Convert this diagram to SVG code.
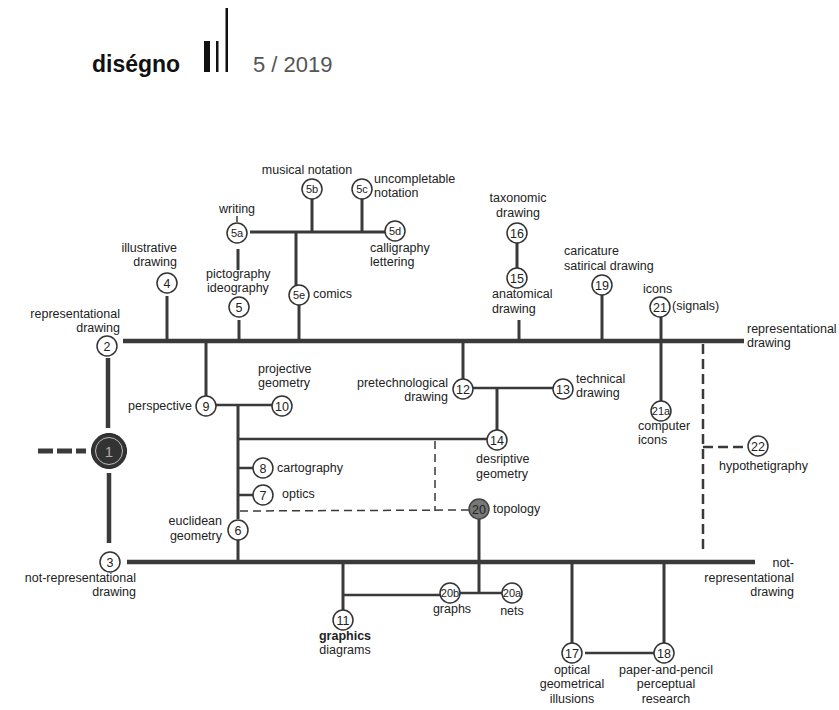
<svg xmlns="http://www.w3.org/2000/svg" width="839" height="710" viewBox="0 0 839 710">
<style>
.t{font-family:"Liberation Sans",Arial,sans-serif;font-size:12.5px;fill:#222}
.e{text-anchor:end}
.m{text-anchor:middle}
.n{font-family:"Liberation Sans",Arial,sans-serif;font-size:12.5px;fill:#222;text-anchor:middle}
.s{font-size:11px}
.c{fill:#fff;stroke:#333;stroke-width:1.5}
.main{stroke:#3a3a3a;stroke-width:4.5;fill:none}
.br{stroke:#3a3a3a;stroke-width:3;fill:none}
.th{stroke:#3a3a3a;stroke-width:2.5;fill:none}
.dsh{stroke:#3a3a3a;stroke-width:1.5;fill:none;stroke-dasharray:8,5}
.dsh2{stroke:#3a3a3a;stroke-width:2.5;fill:none;stroke-dasharray:10,5}
</style>
<rect width="839" height="710" fill="#fff"/>
<g id="header">
<text x="92" y="72" style="font-family:'Liberation Sans',Arial,sans-serif;font-size:23px;font-weight:bold;fill:#111">diségno</text>
<rect x="204" y="41" width="6" height="31" fill="#111"/>
<rect x="216" y="41" width="2.5" height="31" fill="#111"/>
<rect x="225.5" y="8" width="2.5" height="64" fill="#111"/>
<text x="253" y="72" style="font-family:'Liberation Sans',Arial,sans-serif;font-size:22px;fill:#555">5 / 2019</text>
</g>
<g id="connectors">
<line class="main" x1="123" y1="341" x2="744" y2="341"/>
<line class="main" x1="127" y1="562" x2="755" y2="562"/>
<line class="main" x1="108" y1="358" x2="108" y2="428"/>
<line class="main" x1="109" y1="473" x2="109" y2="543"/>
<line stroke="#3a3a3a" stroke-width="5" stroke-dasharray="15,4" x1="38" y1="451" x2="86" y2="451"/>
<line class="br" x1="167" y1="296" x2="167" y2="341"/>
<line class="br" x1="239" y1="320" x2="239" y2="341"/>
<line class="br" x1="238" y1="249" x2="238" y2="270"/>
<line stroke="#3a3a3a" stroke-width="1.5" x1="237" y1="216" x2="237" y2="222"/>
<line class="br" x1="250" y1="232" x2="385" y2="232"/>
<line class="br" x1="312" y1="199" x2="312" y2="232"/>
<line class="br" x1="362" y1="199" x2="362" y2="232"/>
<line class="br" x1="296" y1="232" x2="296" y2="285"/>
<line class="br" x1="299" y1="305" x2="299" y2="341"/>
<line class="br" x1="517" y1="243" x2="517" y2="268"/>
<line class="br" x1="519" y1="320" x2="519" y2="341"/>
<line class="br" x1="602" y1="295" x2="602" y2="341"/>
<line class="br" x1="661" y1="317" x2="661" y2="401"/>
<line class="br" x1="206" y1="341" x2="206" y2="396"/>
<line class="th" x1="216" y1="405" x2="272" y2="405"/>
<line class="br" x1="238" y1="405" x2="238" y2="519"/>
<line class="br" x1="238" y1="540" x2="238" y2="562"/>
<line class="th" x1="238" y1="439" x2="487" y2="439"/>
<line class="th" x1="238" y1="468" x2="253" y2="468"/>
<line class="th" x1="238" y1="495" x2="253" y2="495"/>
<line class="dsh" x1="240" y1="511" x2="469" y2="510"/>
<line class="dsh" x1="435" y1="441" x2="435" y2="511"/>
<line class="br" x1="463" y1="341" x2="463" y2="379"/>
<line class="th" x1="473" y1="388" x2="553" y2="388"/>
<line class="br" x1="497" y1="388" x2="497" y2="430"/>
<line class="br" x1="479" y1="519" x2="479" y2="593"/>
<line class="th" x1="460" y1="593" x2="502" y2="593"/>
<line class="th" x1="343" y1="595" x2="440" y2="595"/>
<line class="br" x1="343" y1="562" x2="343" y2="610"/>
<line class="br" x1="572" y1="562" x2="572" y2="643"/>
<line class="br" x1="664" y1="562" x2="664" y2="643"/>
<line class="th" x1="585" y1="653" x2="654" y2="653"/>
<line class="dsh2" x1="703" y1="344" x2="703" y2="550"/>
<polyline class="dsh2" points="703,447 748,447"/>
</g>
<g id="n1"><circle cx="109" cy="451" r="17.5" fill="#333" stroke="#222" stroke-width="1"/><circle cx="109" cy="451" r="13.5" fill="none" stroke="#bbb" stroke-width="1"/><text x="109" y="456.5" class="n" style="font-size:15px;fill:#aaa">1</text></g>
<g id="n2"><circle class="c" cx="107" cy="346" r="10"/><text class="n" x="107" y="350.5">2</text><text class="t e" x="120" y="318">representational</text><text class="t e" x="120" y="332">drawing</text></g>
<g id="n3"><circle class="c" cx="110" cy="562" r="10"/><text class="n" x="110" y="566.5">3</text><text class="t e" x="136" y="582">not-representational</text><text class="t e" x="136" y="596">drawing</text></g>
<g id="n4"><circle class="c" cx="167" cy="283" r="10"/><text class="n" x="167" y="287.5">4</text><text class="t e" x="177" y="252">illustrative</text><text class="t e" x="177" y="266">drawing</text></g>
<g id="n5"><circle class="c" cx="239" cy="307" r="10"/><text class="n" x="239" y="311.5">5</text><text class="t" x="206" y="278">pictography</text><text class="t" x="207" y="292">ideography</text></g>
<g id="n5a"><circle class="c" cx="237" cy="233" r="10"/><text class="n s" x="237" y="237">5a</text><text class="t m" x="237" y="213">writing</text></g>
<g id="n5b"><circle class="c" cx="312" cy="189" r="10"/><text class="n s" x="312" y="193">5b</text><text class="t m" x="307" y="174">musical notation</text></g>
<g id="n5c"><circle class="c" cx="362" cy="189" r="10"/><text class="n s" x="362" y="193">5c</text><text class="t" x="374" y="183">uncompletable</text><text class="t" x="374" y="197">notation</text></g>
<g id="n5d"><circle class="c" cx="395" cy="231" r="10"/><text class="n s" x="395" y="235">5d</text><text class="t" x="370" y="252">calligraphy</text><text class="t" x="370" y="266">lettering</text></g>
<g id="n5e"><circle class="c" cx="299" cy="295" r="10"/><text class="n s" x="299" y="299">5e</text><text class="t" x="313" y="298">comics</text></g>
<g id="n6"><circle class="c" cx="238" cy="530" r="10"/><text class="n" x="238" y="534.5">6</text><text class="t e" x="222" y="525">euclidean</text><text class="t e" x="222" y="540">geometry</text></g>
<g id="n7"><circle class="c" cx="263" cy="495" r="10"/><text class="n" x="263" y="499.5">7</text><text class="t" x="282" y="498">optics</text></g>
<g id="n8"><circle class="c" cx="263" cy="468" r="10"/><text class="n" x="263" y="472.5">8</text><text class="t" x="277" y="472">cartography</text></g>
<g id="n9"><circle class="c" cx="206" cy="406" r="10"/><text class="n" x="206" y="410.5">9</text><text class="t e" x="192" y="410">perspective</text></g>
<g id="n10"><circle class="c" cx="282" cy="406" r="10"/><text class="n" x="282" y="410.5">10</text><text class="t" x="258" y="373">projective</text><text class="t" x="258" y="387">geometry</text></g>
<g id="n11"><circle class="c" cx="343" cy="620" r="10"/><text class="n" x="343" y="624.5">11</text><text class="t m" x="345" y="640" font-weight="bold">graphics</text><text class="t m" x="345" y="654">diagrams</text></g>
<g id="n12"><circle class="c" cx="463" cy="389" r="10"/><text class="n" x="463" y="393.5">12</text><text class="t e" x="448" y="387">pretechnological</text><text class="t e" x="448" y="401">drawing</text></g>
<g id="n13"><circle class="c" cx="563" cy="389" r="10"/><text class="n" x="563" y="393.5">13</text><text class="t" x="576" y="383">technical</text><text class="t" x="576" y="397">drawing</text></g>
<g id="n14"><circle class="c" cx="497" cy="440" r="10"/><text class="n" x="497" y="444.5">14</text><text class="t" x="476" y="463">desriptive</text><text class="t" x="476" y="478">geometry</text></g>
<g id="n15"><circle class="c" cx="517" cy="278" r="10"/><text class="n" x="517" y="282.5">15</text><text class="t" x="492" y="298">anatomical</text><text class="t" x="492" y="313">drawing</text></g>
<g id="n16"><circle class="c" cx="517" cy="233" r="10"/><text class="n" x="517" y="237.5">16</text><text class="t m" x="518" y="202">taxonomic</text><text class="t m" x="518" y="217">drawing</text></g>
<g id="n17"><circle class="c" cx="572" cy="653" r="10"/><text class="n" x="572" y="657.5">17</text><text class="t m" x="572" y="674">optical</text><text class="t m" x="572" y="688">geometrical</text><text class="t m" x="572" y="703">illusions</text></g>
<g id="n18"><circle class="c" cx="664" cy="653" r="10"/><text class="n" x="664" y="657.5">18</text><text class="t m" x="666" y="674">paper-and-pencil</text><text class="t m" x="666" y="688">perceptual</text><text class="t m" x="666" y="703">research</text></g>
<g id="n19"><circle class="c" cx="602" cy="285" r="10"/><text class="n" x="602" y="289.5">19</text><text class="t" x="564" y="255">caricature</text><text class="t" x="564" y="270">satirical drawing</text></g>
<g id="n20"><circle cx="479" cy="509" r="10" fill="#777" stroke="#444" stroke-width="1.5"/><text class="n" x="479" y="513.5">20</text><text class="t" x="493" y="513">topology</text></g>
<g id="n20a"><circle class="c" cx="512" cy="593" r="10"/><text class="n s" x="512" y="597">20a</text><text class="t m" x="512" y="615">nets</text></g>
<g id="n20b"><circle class="c" cx="450" cy="593" r="10"/><text class="n s" x="450" y="597">20b</text><text class="t m" x="452" y="613">graphs</text></g>
<g id="n21"><circle class="c" cx="660" cy="307" r="10"/><text class="n" x="660" y="311.5">21</text><text class="t" x="643" y="293">icons</text><text class="t" x="672" y="310">(signals)</text></g>
<g id="n21a"><circle class="c" cx="661" cy="411" r="10"/><text class="n s" x="661" y="415">21a</text><text class="t" x="638" y="430">computer</text><text class="t" x="638" y="444">icons</text></g>
<g id="n22"><circle class="c" cx="758" cy="446" r="10"/><text class="n" x="758" y="450.5">22</text><text class="t" x="719" y="470">hypothetigraphy</text></g>
<g id="lbl-right">
<text class="t" x="747" y="333">representational</text><text class="t" x="747" y="347">drawing</text>
<text class="t e" x="794" y="567">not-</text><text class="t e" x="794" y="582">representational</text><text class="t e" x="794" y="596">drawing</text>
</g>
</svg>
